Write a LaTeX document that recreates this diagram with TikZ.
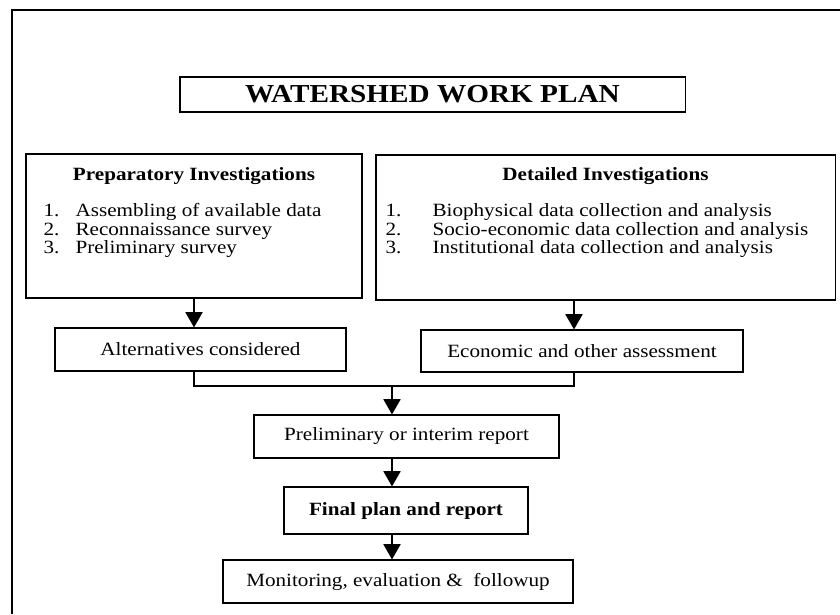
\documentclass[tikz,border=0pt]{standalone}
\usepackage{fontspec}
\setmainfont{Liberation Serif}[FakeStretch=1.13]
\usepackage{tikz}
\usetikzlibrary{arrows.meta}

\tikzset{
    box/.style={draw, line width=0.8pt, inner sep=0pt, align=center,
        font=\fontsize{13.3pt}{16pt}\selectfont},
    arr/.style={line width=1.2pt, -{Triangle[width=0.425cm, length=0.38cm]}},
    link/.style={line width=1.2pt}
}

\begin{document}
\begin{tikzpicture}[x=0.025cm, y=-0.025cm]
    \useasboundingbox (0,0) rectangle (840,614);
    % frame
    \draw[line width=1.4pt] (12,614) -- (12,10) -- (840,10);

    % title
    \node[box, minimum width=12.625cm, minimum height=0.875cm,
        font=\fontsize{18.4pt}{20pt}\selectfont\bfseries] (title) at (432.5,94.5) {WATERSHED WORK PLAN};

    % investigations
    \node[box, minimum width=8.4cm, minimum height=3.6cm] (prep) at (194,226) {};
    \node[box, draw=none, font=\fontsize{13.3pt}{16pt}\selectfont\bfseries] (prephead) at (194,176) {Preparatory Investigations};
    \node[box, draw=none, align=left, anchor=base west,
        font=\fontsize{13.3pt}{13pt}\selectfont] (preplist) at (43,253.5) {%
        \makebox[0.8cm][l]{1.}Assembling of available data\\
        \makebox[0.8cm][l]{2.}Reconnaissance survey\\
        \makebox[0.8cm][l]{3.}Preliminary survey};

    \node[box, minimum width=11.475cm, minimum height=3.625cm] (detail) at (605.5,227.5) {};
    \node[box, draw=none, font=\fontsize{13.3pt}{16pt}\selectfont\bfseries] (dethead) at (605.5,176) {Detailed Investigations};
    \node[box, draw=none, align=left, anchor=base west,
        font=\fontsize{13.3pt}{13pt}\selectfont] (detlist) at (385,253.5) {%
        \makebox[1.175cm][l]{1.}Biophysical data collection and analysis\\
        \makebox[1.175cm][l]{2.}Socio-economic data collection and analysis\\
        \makebox[1.175cm][l]{3.}Institutional data collection and analysis};

    % outcomes
    \node[box, minimum width=7.275cm, minimum height=1.075cm] (alt) at (200.5,349.5) {Alternatives considered};
    \node[box, minimum width=8.05cm, minimum height=1.05cm] (econ) at (582,351) {Economic and other assessment};
    \node[box, minimum width=7.625cm, minimum height=1.075cm] (prelim) at (406.5,436.5) {Preliminary or interim report};
    \node[box, minimum width=6.1cm, minimum height=1.175cm, font=\fontsize{13.3pt}{16pt}\selectfont\bfseries] (final) at (406,510.5) {Final plan and report};
    \node[box, minimum width=8.75cm, minimum height=1.075cm] (monit) at (398,581.5) {Monitoring, evaluation \&~ followup};

    \coordinate (rx) at (574,0);
    \coordinate (j) at (392,386);

    % connectors
    \draw[arr] (prep.south) -- (prep.south |- alt.north);
    \draw[arr] (rx |- detail.south) -- (rx |- econ.north);
    \draw[link] (prep.south |- alt.south) -- (prep.south |- j) -- (rx |- j) -- (rx |- econ.south);
    \draw[arr] (j) -- (j |- prelim.north);
    \draw[arr] (j |- prelim.south) -- (j |- final.north);
    \draw[arr] (j |- final.south) -- (j |- monit.north);
\end{tikzpicture}
\end{document}
